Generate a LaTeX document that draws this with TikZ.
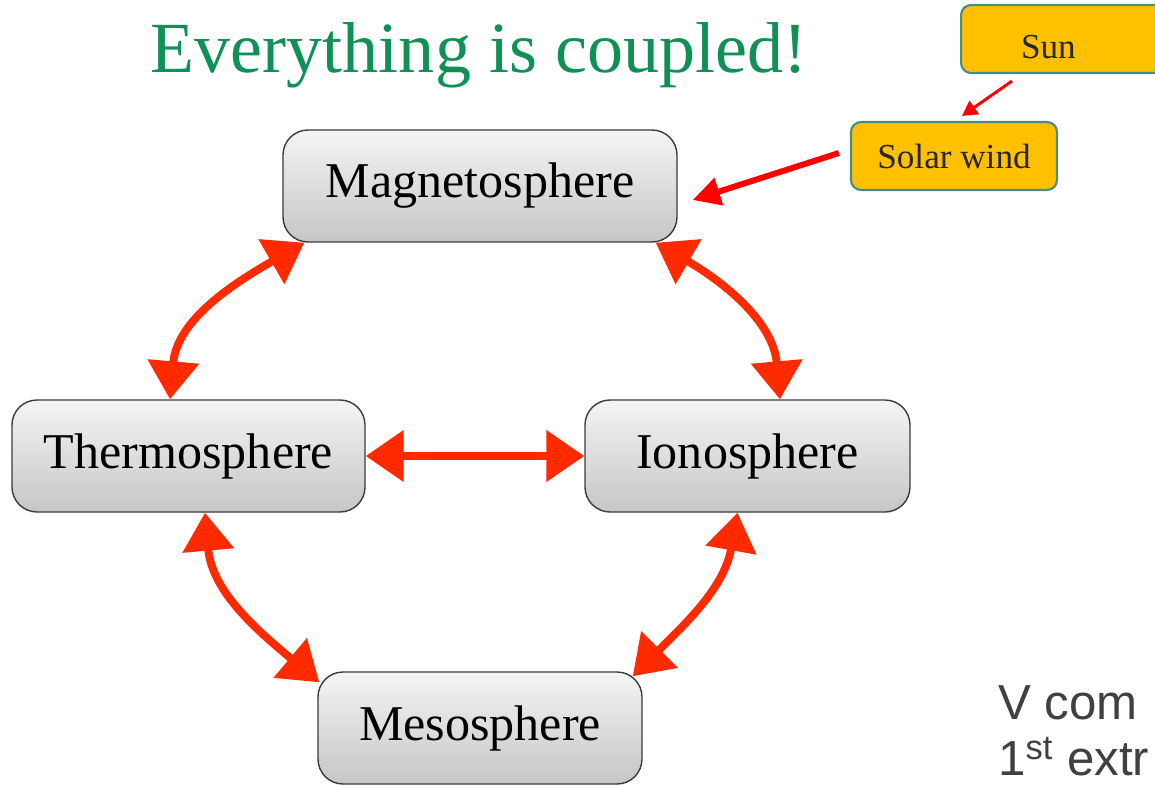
\documentclass[tikz,border=0pt]{standalone}
\usepackage{fontspec}
\setmainfont{Liberation Serif}
\setsansfont{Liberation Sans}
\usetikzlibrary{arrows.meta}
\definecolor{titlegreen}{HTML}{0F9155}
\definecolor{sunorange}{HTML}{FFC000}
\definecolor{sunborder}{HTML}{4A8C84}
\definecolor{linkred}{HTML}{FF2A00}
\definecolor{windred}{HTML}{FF0000}
\definecolor{boxedge}{HTML}{3C3C3C}
\definecolor{darktext}{HTML}{262626}
\definecolor{notegray}{HTML}{404040}

\begin{document}
\begin{tikzpicture}[x=0.2mm,y=-0.2mm,
  layer/.style={draw=boxedge,line width=0.8pt,rounded corners=5mm,
                top color=gray!8,bottom color=gray!45,minimum height=22.4mm,
                font=\fontsize{28.5}{34}\selectfont,text=black},
  sunbox/.style={draw=sunborder,line width=1.2pt,fill=sunorange,
                 rounded corners=2mm,minimum height=13.6mm,
                 font=\fontsize{20}{24}\selectfont,text=darktext},
  link/.style={{Triangle[length=7.6mm,width=10mm]}-{Triangle[length=7.6mm,width=10mm]},
               line width=4.5pt,draw=linkred},
  windarrow/.style={-{Triangle[length=5.5mm,width=5.5mm]},line width=3.4pt,draw=windred},
  sunarrow/.style={-{Triangle[length=3mm,width=3.2mm]},line width=1.7pt,draw=windred},
  note/.style={font=\sffamily\fontsize{28}{34}\selectfont,text=notegray,inner sep=0pt}]
\useasboundingbox (0,0) rectangle (1155,786);
\clip (0,0) rectangle (1155,786);
\fill[white] (0,0) rectangle (1155,786);
\node[anchor=base,text=titlegreen,font=\fontsize{41}{48}\selectfont] (title) at (479,72)
  {Everything is coupled!};
\node[layer,minimum width=78.8mm] (mag) at (480,186) {Magnetosphere};
\node[layer,minimum width=70.6mm] (thermo) at (188.5,456) {Thermosphere};
\node[layer,minimum width=65mm] (iono) at (747.5,456) {Ionosphere};
\node[layer,minimum width=64.8mm] (meso) at (480,728) {Mesosphere};
\node[sunbox,anchor=west,inner xsep=12mm,text width=20mm,align=left,
      text height=7.9mm,text depth=0mm] (sun) at (960,39) {Sun};
\node[sunbox,minimum width=41.2mm] (solar) at (954,156) {Solar wind};
\node[note,anchor=base west] (notea) at (998,719) {V com};
\node[note,anchor=base west] (noteb) at (998,775) {1\textsuperscript{st} extr};
\draw[link] ([xshift=4.4mm]mag.south west) to[out=210,in=85] ([xshift=-3.7mm]thermo.north);
\draw[link] ([xshift=-4.4mm]mag.south east) to[out=-30,in=95] ([xshift=6.5mm]iono.north);
\draw[link] (thermo.east) -- (iono.west);
\draw[link] ([xshift=3.3mm]thermo.south) to[out=-85,in=140] ([xshift=0.4mm,yshift=-2.2mm]meso.north west);
\draw[link] ([xshift=-2mm]iono.south) to[out=-100,in=45] ([xshift=-2mm,yshift=-1mm]meso.north east);
\draw[windarrow] ([xshift=-2.2mm,yshift=0.6mm]solar.west) -- ([xshift=3mm,yshift=-2.8mm]mag.east);
\draw[sunarrow] ([xshift=10.4mm,yshift=-1.4mm]sun.south west) -- ([xshift=1.6mm,yshift=1mm]solar.north);
\end{tikzpicture}
\end{document}
